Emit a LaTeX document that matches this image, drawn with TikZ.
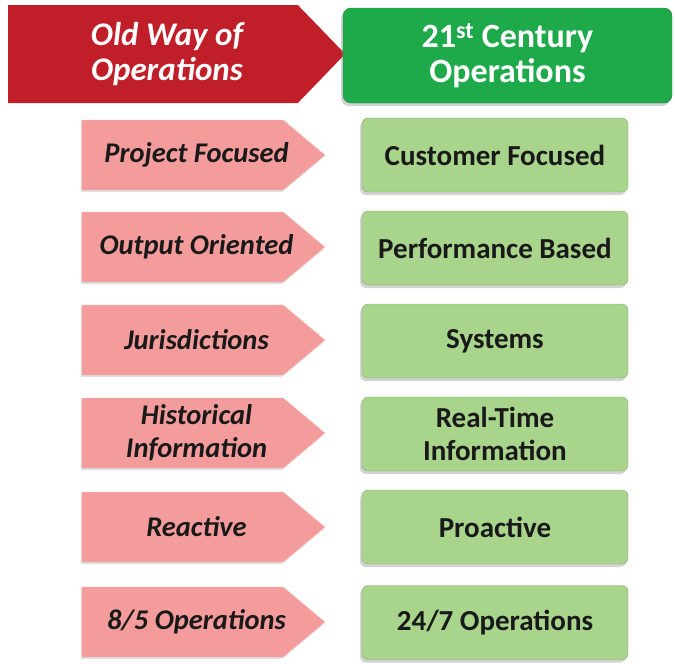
\documentclass[tikz,border=0pt]{standalone}
\usepackage{fontspec}
\setmainfont{Carlito}
\usepackage{xcolor}
\usetikzlibrary{shapes.symbols,shadows}
\definecolor{oldred}{RGB}{192,30,40}
\definecolor{newgreen}{RGB}{30,170,75}
\definecolor{oldpink}{RGB}{244,156,156}
\definecolor{newlight}{RGB}{168,212,140}
\definecolor{inkdark}{RGB}{25,25,25}
% push a line of arrow text a little towards the tip (without widening the body)
\newcommand{\tipward}[1]{\hspace*{28pt}\makebox[0pt]{#1}}
\begin{document}
\begin{tikzpicture}[
  x=1pt, y=-1pt,
  oldhead/.style={signal, signal to=east, signal pointer angle=92, fill=oldred,
    minimum width=337pt, minimum height=98pt, inner sep=0pt, align=center,
    text=white, font=\fontsize{33}{35}\selectfont\bfseries\itshape},
  newhead/.style={draw=newgreen!80!black, fill=newgreen, rounded corners=8pt,
    minimum width=329pt, minimum height=95pt, align=center, text=white,
    font=\fontsize{34}{35}\selectfont\bfseries,
    drop shadow={shadow xshift=-2pt, shadow yshift=-3pt, opacity=0.35}},
  oldrow/.style={signal, signal to=east, signal pointer angle=80,
    draw=oldpink!70!white, fill=oldpink, minimum width=243pt, minimum height=70pt,
    inner sep=0pt, align=center, text=inkdark,
    font=\fontsize{28.5}{33}\selectfont\bfseries\itshape,
    drop shadow={shadow xshift=-1pt, shadow yshift=-2pt, opacity=0.25}},
  newrow/.style={draw=newlight!80!black, fill=newlight, rounded corners=6pt,
    minimum width=266pt, minimum height=74pt, align=center, text=inkdark,
    font=\fontsize{29}{33}\selectfont\bfseries,
    drop shadow={shadow xshift=-2pt, shadow yshift=-3pt, opacity=0.35}}
]
\useasboundingbox (0,0) rectangle (675,664);
% headers
\node[oldhead] (oldway) at (153, 54) {\tipward{Old Way of}\\\tipward{Operations}};
\node[newhead] (newway) at (507.5, 55.5) {21\textsuperscript{st} Century\\Operations};
% old way of working
\node[oldrow] (project) at (182.5, 155) {\tipward{Project Focused}};
\node[oldrow] (output) at (182.5, 247) {\tipward{Output Oriented}};
\node[oldrow] (juris) at (182.5, 340) {\tipward{Jurisdictions}};
\node[oldrow] (histinfo) at (182.5, 433) {\tipward{Historical}\\\tipward{Information}};
\node[oldrow] (reactive) at (182.5, 527) {\tipward{Reactive}};
\node[oldrow] (eightfive) at (182.5, 622) {\tipward{8/5 Operations}};
% 21st century
\node[newrow] (customer) at (495, 155) {Customer Focused};
\node[newrow] (perform) at (495, 248) {Performance Based};
\node[newrow] (systems) at (495, 341) {Systems};
\node[newrow] (realtime) at (495, 434) {Real-Time\\Information};
\node[newrow] (proactive) at (495, 527) {Proactive};
\node[newrow] (twentyfour) at (495, 622.5) {24/7 Operations};
\end{tikzpicture}
\end{document}
